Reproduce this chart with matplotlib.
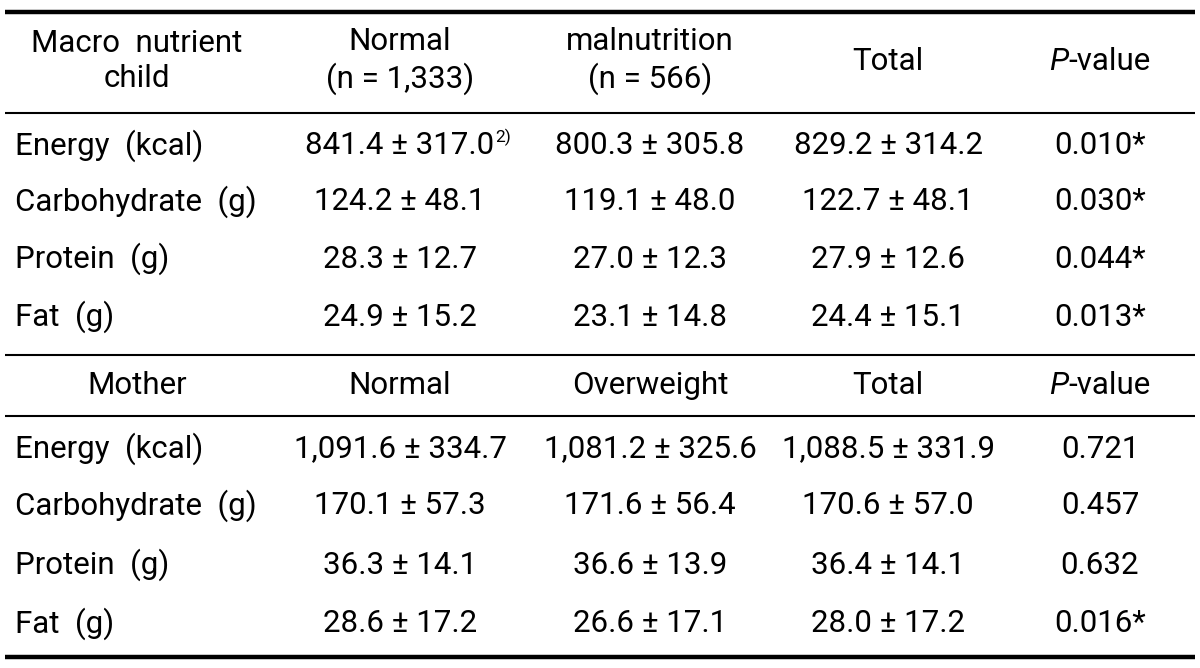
import matplotlib.pyplot as plt

# table content
child_header = ["Macro  nutrient\nchild", "Normal\n(n = 1,333)", "malnutrition\n(n = 566)", "Total"]
mother_header = ["Mother", "Normal", "Overweight", "Total"]
row_labels = ["Energy  (kcal)", "Carbohydrate  (g)", "Protein  (g)", "Fat  (g)"]

child_normal = ["841.4 ± 317.0", "124.2 ± 48.1", "28.3 ± 12.7", "24.9 ± 15.2"]
child_maln = ["800.3 ± 305.8", "119.1 ± 48.0", "27.0 ± 12.3", "23.1 ± 14.8"]
child_total = ["829.2 ± 314.2", "122.7 ± 48.1", "27.9 ± 12.6", "24.4 ± 15.1"]
child_p = ["0.010*", "0.030*", "0.044*", "0.013*"]

mother_normal = ["1,091.6 ± 334.7", "170.1 ± 57.3", "36.3 ± 14.1", "28.6 ± 17.2"]
mother_over = ["1,081.2 ± 325.6", "171.6 ± 56.4", "36.6 ± 13.9", "26.6 ± 17.1"]
mother_total = ["1,088.5 ± 331.9", "170.6 ± 57.0", "36.4 ± 14.1", "28.0 ± 17.2"]
mother_p = ["0.721", "0.457", "0.632", "0.016*"]

FONT = "Roboto"
FS = 22.5

fig = plt.figure(figsize=(12, 6.68), dpi=100)
ax = fig.add_axes([0, 0, 1, 1])
ax.set_xlim(0, 1200)
ax.set_ylim(668, 0)
ax.set_axis_off()

col_x = [137, 400, 650, 888, 1100]
label_x = 15


def txt(x, y, s, ha="center", **kw):
    return ax.text(x, y, s, ha=ha, va="center", fontsize=FS, family=FONT,
                   linespacing=1.25, **kw)


def pvalue_header(y):
    # italic P followed by "-value", centred on the last column
    r = fig.canvas.get_renderer()
    t1 = ax.text(0, y, "P", ha="left", va="center", fontsize=FS, family=FONT, style="italic")
    t2 = ax.text(0, y, "-value", ha="left", va="center", fontsize=FS, family=FONT)
    w1 = t1.get_window_extent(r).width
    w2 = t2.get_window_extent(r).width
    x0 = col_x[4] - (w1 + w2) / 2
    t1.set_x(x0)
    t2.set_x(x0 + w1)


def header(y, labels):
    for i, s in enumerate(labels):
        txt(col_x[i], y, s)
    pvalue_header(y)


def body(ys, cols):
    cells = []
    for j, y in enumerate(ys):
        txt(label_x, y, row_labels[j], ha="left")
        cells.append([txt(col_x[i + 1], y, c[j]) for i, c in enumerate(cols)])
    return cells


# child block
header(61, child_header)
child_y = [146, 202, 259, 317]
cells = body(child_y, [child_normal, child_maln, child_total, child_p])

# footnote mark after the first value
ax.annotate("2)", xy=(1, 1), xycoords=cells[0][0], xytext=(0.5, -4), textcoords="offset points",
            ha="left", va="center", fontsize=12.5, family=FONT)

# mother block
header(386, mother_header)
mother_y = [449, 506, 565, 624]
body(mother_y, [mother_normal, mother_over, mother_total, mother_p])

# rules
ax.plot([5, 1195], [12, 12], color="black", lw=3.2, solid_capstyle="butt")
ax.plot([5, 1195], [113, 113], color="black", lw=1.5, solid_capstyle="butt")
ax.plot([5, 1195], [355, 355], color="black", lw=1.5, solid_capstyle="butt")
ax.plot([5, 1195], [416, 416], color="black", lw=1.5, solid_capstyle="butt")
ax.plot([5, 1195], [657, 657], color="black", lw=3.2, solid_capstyle="butt")

fig.savefig("out.png", dpi=100)
